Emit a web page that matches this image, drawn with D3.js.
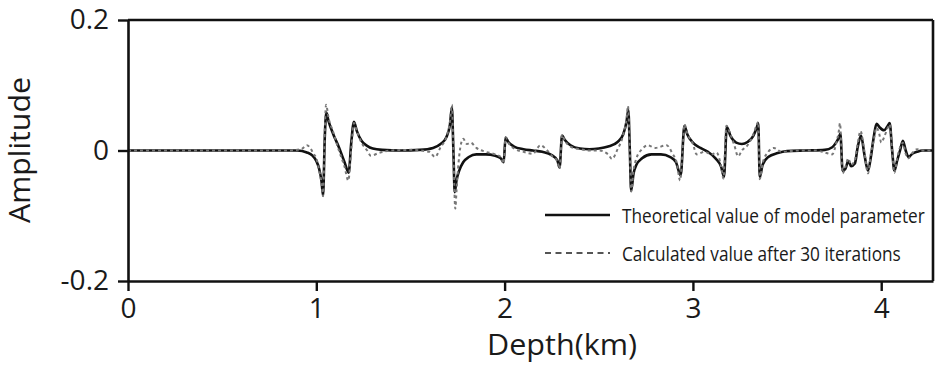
<!DOCTYPE html>
<html>
<head>
<meta charset="utf-8">
<script src="https://cdn.jsdelivr.net/npm/d3@7"></script>
<style>
  html, body { margin: 0; padding: 0; background: #fff; }
  svg { display: block; font-family: "Open Sans", "Noto Sans", sans-serif; }
</style>
</head>
<body>
<svg id="chart" width="937" height="367"></svg>
<script>
// Depth (km) of each sample of the theoretical model parameter
const theoDepth = [0, 0.80, 0.90, 0.95, 0.98, 1.00, 1.015, 1.028, 1.036, 1.045, 1.053, 1.065, 1.09, 1.12, 1.15, 1.172, 1.185, 1.20, 1.215, 1.24, 1.27, 1.30, 1.35, 1.45, 1.55, 1.62, 1.66, 1.69, 1.71, 1.72, 1.728, 1.735, 1.745, 1.76, 1.78, 1.81, 1.85, 1.90, 1.95, 1.98, 1.995, 2.005, 2.02, 2.05, 2.10, 2.15, 2.20, 2.25, 2.28, 2.292, 2.305, 2.32, 2.35, 2.40, 2.45, 2.50, 2.55, 2.60, 2.63, 2.648, 2.657, 2.665, 2.672, 2.685, 2.70, 2.73, 2.78, 2.83, 2.88, 2.91, 2.935, 2.955, 2.97, 3.00, 3.04, 3.08, 3.12, 3.15, 3.165, 3.18, 3.20, 3.23, 3.26, 3.29, 3.32, 3.34, 3.347, 3.355, 3.37, 3.40, 3.45, 3.50, 3.60, 3.70, 3.74, 3.76, 3.775, 3.783, 3.795, 3.81, 3.825, 3.84, 3.86, 3.875, 3.893, 3.91, 3.93, 3.945, 3.96, 3.975, 3.99, 4.015, 4.035, 4.045, 4.058, 4.07, 4.085, 4.10, 4.115, 4.13, 4.145, 4.165, 4.19, 4.22, 4.275];
// Theoretical amplitude at each depth above
const theoAmp = [0, 0, 0, -0.003, -0.008, -0.016, -0.028, -0.048, -0.069, 0.02, 0.058, 0.045, 0.025, 0.005, -0.018, -0.034, 0.01, 0.044, 0.03, 0.015, 0.007, 0.003, 0.001, 0, 0.001, 0.004, 0.01, 0.02, 0.04, 0.066, 0.0, -0.064, -0.045, -0.03, -0.018, -0.01, -0.006, -0.006, -0.008, -0.012, -0.018, 0.02, 0.013, 0.006, 0.002, 0, -0.002, -0.007, -0.015, -0.026, 0.023, 0.016, 0.008, 0.003, 0.002, 0.003, 0.006, 0.013, 0.025, 0.045, 0.062, 0.0, -0.062, -0.035, -0.022, -0.012, -0.006, -0.006, -0.01, -0.018, -0.038, 0.038, 0.025, 0.012, 0.004, -0.002, -0.012, -0.025, -0.04, 0.036, 0.022, 0.012, 0.01, 0.013, 0.022, 0.036, 0.042, -0.041, -0.022, -0.01, -0.004, -0.001, 0, 0.001, 0.005, 0.012, 0.02, 0.026, -0.031, -0.028, -0.016, -0.024, -0.02, 0.005, 0.023, -0.005, -0.031, -0.01, 0.02, 0.041, 0.036, 0.031, 0.038, 0.042, 0.0, -0.031, -0.015, 0.0, 0.015, 0.0, -0.01, -0.005, -0.002, 0, 0];

// Depth (km) of each sample of the inverted result
const calcDepth = [0, 0.85, 0.92, 0.95, 0.97, 0.985, 1.00, 1.015, 1.028, 1.036, 1.045, 1.052, 1.065, 1.09, 1.12, 1.15, 1.17, 1.185, 1.20, 1.215, 1.24, 1.27, 1.29, 1.33, 1.40, 1.50, 1.60, 1.63, 1.66, 1.69, 1.71, 1.72, 1.728, 1.738, 1.745, 1.755, 1.765, 1.78, 1.80, 1.82, 1.85, 1.90, 1.95, 1.98, 1.995, 2.005, 2.02, 2.05, 2.10, 2.15, 2.19, 2.22, 2.25, 2.28, 2.292, 2.305, 2.32, 2.35, 2.40, 2.45, 2.50, 2.55, 2.57, 2.60, 2.63, 2.648, 2.655, 2.665, 2.672, 2.685, 2.70, 2.73, 2.76, 2.80, 2.86, 2.89, 2.915, 2.932, 2.945, 2.955, 2.97, 3.00, 3.02, 3.06, 3.10, 3.126, 3.15, 3.162, 3.178, 3.20, 3.22, 3.24, 3.26, 3.29, 3.32, 3.34, 3.347, 3.355, 3.37, 3.40, 3.43, 3.47, 3.55, 3.65, 3.70, 3.74, 3.76, 3.775, 3.781, 3.795, 3.81, 3.825, 3.84, 3.86, 3.875, 3.89, 3.91, 3.93, 3.945, 3.96, 3.975, 3.99, 4.00, 4.015, 4.035, 4.045, 4.058, 4.07, 4.085, 4.10, 4.115, 4.13, 4.145, 4.165, 4.19, 4.22, 4.275];
// Amplitude after 30 iterations at each depth above
const calcAmp = [0, 0, 0.002, 0.008, 0.003, -0.005, -0.012, -0.03, -0.05, -0.07, 0.03, 0.07, 0.05, 0.028, 0.0, -0.025, -0.046, 0.0, 0.042, 0.03, 0.012, 0.0, -0.008, -0.004, 0.0, 0.001, -0.002, -0.01, 0.005, 0.02, 0.045, 0.07, 0.0, -0.089, -0.06, -0.02, 0.005, 0.018, 0.01, 0.012, 0.004, -0.002, -0.006, -0.01, -0.02, 0.02, 0.012, 0.003, -0.002, -0.005, 0.008, 0.002, -0.008, -0.016, -0.028, 0.024, 0.015, 0.006, 0.002, 0.0, 0.0, -0.006, -0.013, 0.002, 0.024, 0.05, 0.068, 0.0, -0.063, -0.03, -0.012, 0.002, 0.008, 0.004, 0.008, -0.004, -0.02, -0.046, 0.0, 0.04, 0.026, 0.01, -0.006, -0.002, -0.006, -0.003, -0.025, -0.043, 0.038, 0.024, 0.008, -0.009, 0.0, 0.008, 0.024, 0.04, 0.044, -0.044, -0.02, -0.002, 0.004, -0.002, 0.0, 0.0, -0.003, -0.006, 0.01, 0.03, 0.042, -0.035, -0.025, -0.012, -0.022, -0.015, 0.01, 0.03, 0.0, -0.035, -0.005, 0.015, 0.035, 0.025, 0.012, 0.02, 0.035, 0.04, 0.0, -0.034, -0.012, 0.005, 0.012, -0.005, -0.012, -0.004, 0.002, 0, 0];

const xTicks = [0, 1, 2, 3, 4];
const yTicks = [-0.2, 0, 0.2];
const yTickLabels = ["-0.2", "0", "0.2"];
const legendLabels = ["Theoretical value of model parameter", "Calculated value after 30 iterations"];

const svg = d3.select("#chart");
const plotLeft = 128, plotRight = 933, plotTop = 20, plotBottom = 281;
const ink = "#1a1a1a";

const x = d3.scaleLinear().domain([0, 4.275]).range([plotLeft, plotRight]);
const y = d3.scaleLinear().domain([-0.2, 0.2]).range([plotBottom, plotTop]);

svg.append("defs").append("clipPath").attr("id", "plotClip")
  .append("rect").attr("x", plotLeft).attr("y", plotTop)
  .attr("width", plotRight - plotLeft).attr("height", plotBottom - plotTop);

const theo = theoDepth.map((d, i) => [d, theoAmp[i]]);
const calc = calcDepth.map((d, i) => [d, calcAmp[i]]);

const line = d3.line().x(d => x(d[0])).y(d => y(d[1])).curve(d3.curveMonotoneX);

const plot = svg.append("g").attr("clip-path", "url(#plotClip)");
plot.append("path").datum(theo)
  .attr("d", line).attr("fill", "none").attr("stroke", "#111").attr("stroke-width", 2.6)
  .attr("stroke-linejoin", "round");
plot.append("path").datum(calc)
  .attr("d", line).attr("fill", "none").attr("stroke", "#777").attr("stroke-width", 2)
  .attr("stroke-dasharray", "3,3");

// frame: top and right edges
const frame = svg.append("g").attr("stroke", "#111").attr("stroke-width", 2.6).attr("fill", "none");
frame.append("line").attr("x1", plotLeft).attr("x2", plotRight).attr("y1", plotTop).attr("y2", plotTop);
frame.append("line").attr("x1", plotRight).attr("x2", plotRight).attr("y1", plotTop).attr("y2", plotBottom);

// axes
const xAxis = svg.append("g").attr("transform", `translate(0,${plotBottom})`)
  .call(d3.axisBottom(x).tickValues(xTicks).tickFormat(d3.format("d")).tickSizeInner(10).tickSizeOuter(0).tickPadding(7));
const yAxis = svg.append("g").attr("transform", `translate(${plotLeft},0)`)
  .call(d3.axisLeft(y).tickValues(yTicks).tickFormat((d, i) => yTickLabels[i]).tickSizeInner(10).tickSizeOuter(0).tickPadding(9));

[xAxis, yAxis].forEach(g => {
  g.select(".domain").attr("stroke", "#111").attr("stroke-width", 2.6);
  g.selectAll(".tick line").attr("stroke", "#111").attr("stroke-width", 2.4);
  g.selectAll(".tick text").attr("fill", ink).attr("font-size", 28)
    .attr("font-family", "'Open Sans', 'Noto Sans', sans-serif");
});

svg.append("text").attr("x", 562).attr("y", 355).attr("text-anchor", "middle")
  .attr("font-size", 29).attr("fill", ink)
  .attr("textLength", 150).attr("lengthAdjust", "spacingAndGlyphs").text("Depth(km)");
svg.append("text").attr("transform", "translate(30,150) rotate(-90)").attr("text-anchor", "middle")
  .attr("font-size", 29).attr("fill", ink)
  .attr("textLength", 146).attr("lengthAdjust", "spacingAndGlyphs").text("Amplitude");

// legend: sample lines, then labels squeezed horizontally to the set widths
const legend = svg.append("g");
legend.append("line").attr("x1", 545).attr("x2", 610).attr("y1", 215).attr("y2", 215)
  .attr("stroke", "#111").attr("stroke-width", 2.6);
legend.append("line").attr("x1", 545).attr("x2", 610).attr("y1", 253).attr("y2", 253)
  .attr("stroke", "#555").attr("stroke-width", 2).attr("stroke-dasharray", "6,4.5");
const legendWidths = [303, 279];
const legendBaselines = [223, 261];
legendLabels.forEach((label, i) => {
  const g = legend.append("g");
  const t = g.append("text").attr("x", 0).attr("y", 0)
    .attr("font-size", 20).attr("fill", ink).text(label);
  const natural = t.node().getComputedTextLength();
  g.attr("transform", `translate(622,${legendBaselines[i]}) scale(${legendWidths[i] / natural},1)`);
});
</script>
</body>
</html>
